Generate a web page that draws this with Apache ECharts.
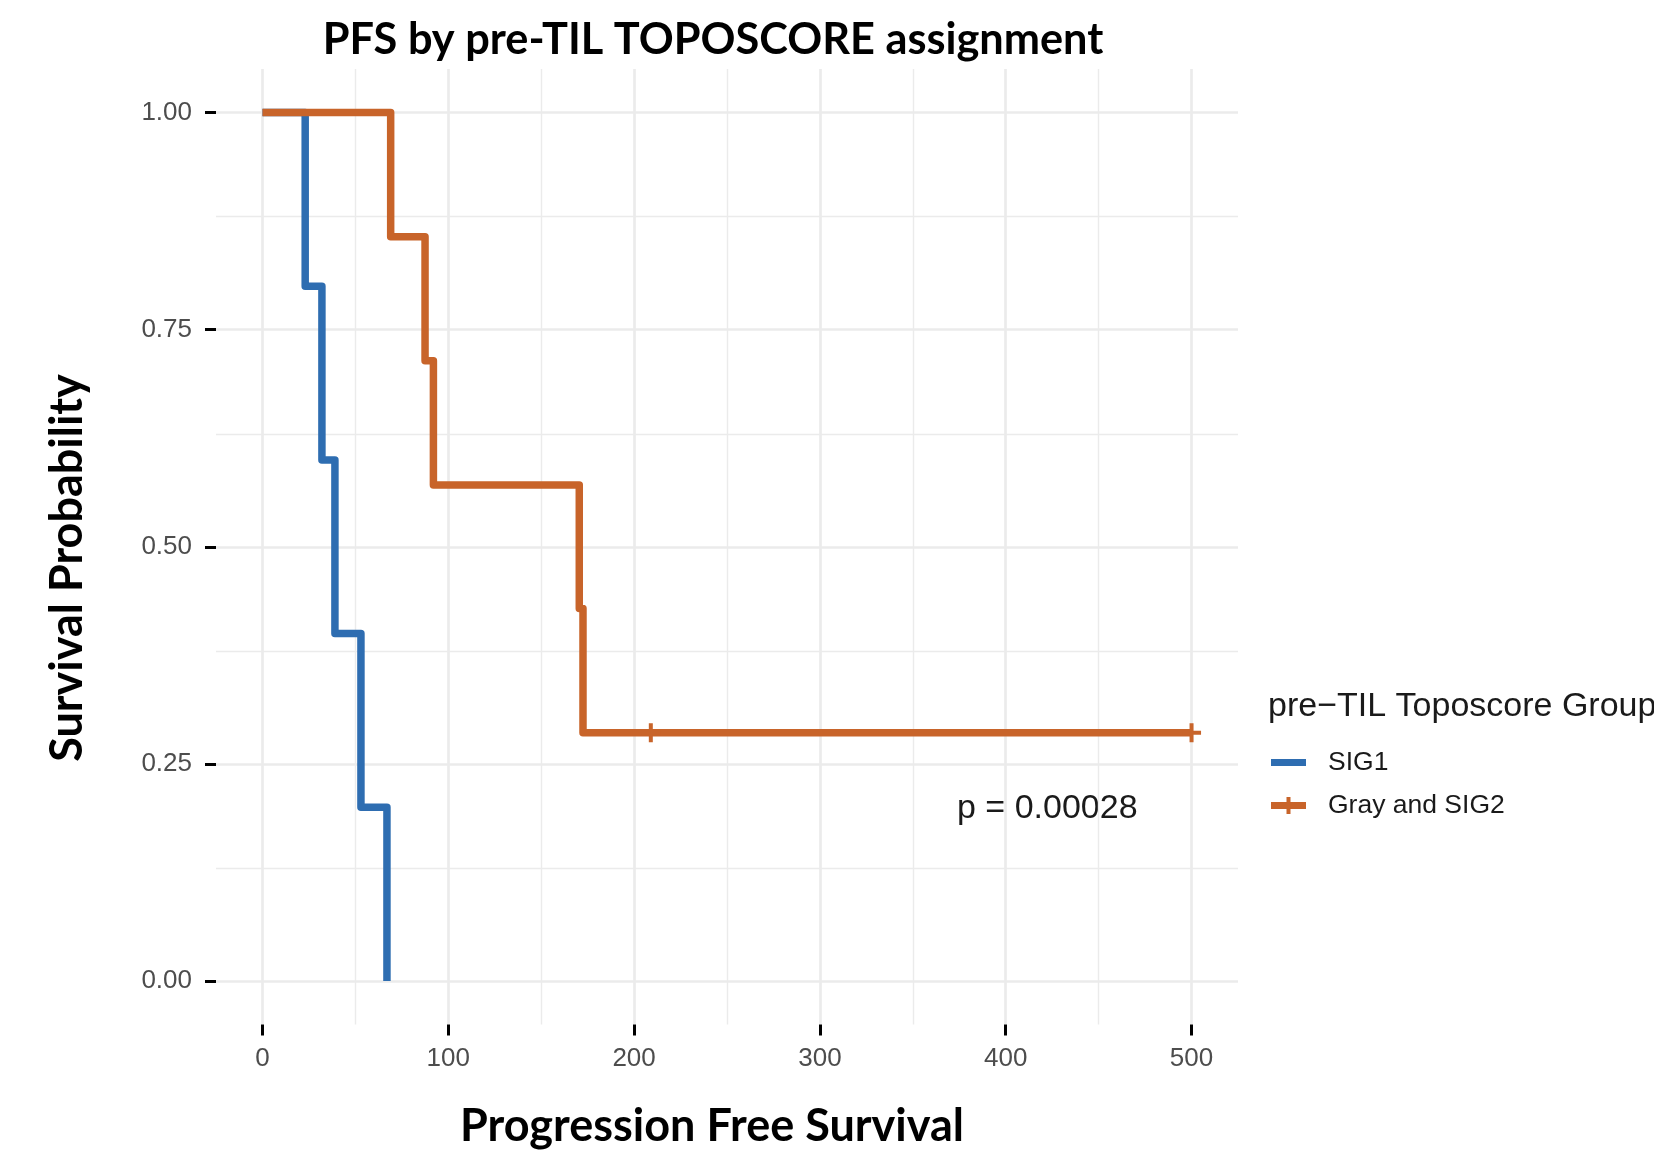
<!DOCTYPE html>
<html>
<head>
<meta charset="utf-8">
<script src="https://cdn.jsdelivr.net/npm/echarts@6/dist/echarts.min.js"></script>
<style>
html,body{margin:0;padding:0;background:#fff;}
#chart{width:1654px;height:1154px;}
</style>
</head>
<body>
<div id="chart"></div>
<script>
// ---- data ----
const sig1Time = [0, 23, 32, 39, 53, 67];
const sig1Surv = [1, 0.8, 0.6, 0.4, 0.2, 0];
const graySig2Time = [0, 69, 87.5, 92, 170.5, 172.5, 500];
const graySig2Surv = [1, 0.857, 0.714, 0.571, 0.429, 0.286, 0.286];
const censorTime = [209, 500];
const censorSurv = [0.286, 0.286];
const xTicks = [0, 100, 200, 300, 400, 500];
const xMinor = [50, 150, 250, 350, 450];
const yTicks = [0, 0.25, 0.5, 0.75, 1];
const yMinor = [0.125, 0.375, 0.625, 0.875];
const seriesNames = ['SIG1', 'Gray and SIG2'];
const titleText = 'PFS by pre-TIL TOPOSCORE assignment';
const xTitle = 'Progression Free Survival';
const yTitle = 'Survival Probability';
const legendTitle = 'pre\u2212TIL Toposcore Group';
const pText = 'p = 0.00028';

const BLUE = '#2E6DB1';
const ORANGE = '#C8642A';
const GRID = '#EBEBEB';
const LABEL_FONT = '"Liberation Sans", Arial, sans-serif';

const zip = (a, b) => a.map((v, i) => [v, b[i]]);

const chart = echarts.init(document.getElementById('chart'));
chart.setOption({
  animation: false,
  backgroundColor: '#fff',
  grid: { left: 216, top: 69, width: 1022, height: 955.5, containLabel: false },
  xAxis: {
    type: 'value', min: -25, max: 525,
    axisLine: { show: false, onZero: false },
    splitLine: { show: false },
    axisTick: { show: true, customValues: xTicks, length: 11, lineStyle: { color: '#000', width: 3 } },
    axisLabel: { customValues: xTicks, margin: 21, color: '#4D4D4D', fontSize: 26, fontFamily: LABEL_FONT }
  },
  yAxis: {
    type: 'value', min: -0.05, max: 1.05,
    axisLine: { show: false, onZero: false },
    splitLine: { show: false },
    axisTick: { show: true, customValues: yTicks, length: 11, lineStyle: { color: '#000', width: 3 } },
    axisLabel: { customValues: yTicks, margin: 24, color: '#4D4D4D', fontSize: 26, fontFamily: LABEL_FONT,
      formatter: v => Number(v).toFixed(2) }
  },
  legend: [
    { data: [seriesNames[0]], left: 1271, top: 749, padding: 0, icon: 'rect', itemWidth: 35, itemHeight: 7,
      selectedMode: false,
      textStyle: { fontSize: 26.5, fontFamily: LABEL_FONT, color: '#1A1A1A', padding: [0, 0, 0, 17] } },
    { data: [seriesNames[1]], left: 1271, top: 792, padding: 0,
      icon: 'path://M0,5H35V12H0Z M15.5,0H19.5V17H15.5Z', itemWidth: 35, itemHeight: 17,
      selectedMode: false,
      textStyle: { fontSize: 26.5, fontFamily: LABEL_FONT, color: '#1A1A1A', padding: [0, 0, 0, 17] } }
  ],
  graphic: [
    { type: 'text', x: 713, y: 40, silent: true,
      style: { text: titleText, align: 'center', verticalAlign: 'middle',
        font: 'bold 43.3px Lato', fill: '#000' } },
    { type: 'text', x: 712, y: 1104, silent: true,
      style: { text: xTitle, align: 'center', verticalAlign: 'top',
        font: 'bold 45px Lato', fill: '#000' } },
    { type: 'text', x: 90, y: 568, rotation: Math.PI / 2, silent: true,
      style: { text: yTitle, align: 'center', verticalAlign: 'bottom',
        font: 'bold 45px Lato', fill: '#000' } },
    { type: 'text', x: 1268, y: 707, silent: true,
      style: { text: legendTitle, align: 'left', verticalAlign: 'middle',
        font: '34px "Liberation Sans", Arial, sans-serif', fill: '#1A1A1A' } },
    { type: 'text', x: 957, y: 809, silent: true,
      style: { text: pText, align: 'left', verticalAlign: 'middle',
        font: '34px "Liberation Sans", Arial, sans-serif', fill: '#1A1A1A' } }
  ],
  series: [
    {
      name: 'gridlines', type: 'line', data: [], z: 0, silent: true,
      markLine: {
        z: 0, silent: true, symbol: ['none', 'none'], label: { show: false }, animation: false,
        emphasis: { disabled: true },
        lineStyle: { color: GRID, type: 'solid', width: 2.7 },
        data: [
          ...xTicks.map(v => ({ xAxis: v, lineStyle: { color: GRID, type: 'solid', width: 2.7 } })),
          ...xMinor.map(v => ({ xAxis: v, lineStyle: { color: GRID, type: 'solid', width: 1.4 } })),
          ...yTicks.map(v => ({ yAxis: v, lineStyle: { color: GRID, type: 'solid', width: 2.7 } })),
          ...yMinor.map(v => ({ yAxis: v, lineStyle: { color: GRID, type: 'solid', width: 1.4 } }))
        ]
      }
    },
    {
      name: seriesNames[0], type: 'line', step: 'end', z: 3,
      data: zip(sig1Time, sig1Surv),
      symbol: 'none', showSymbol: false, color: BLUE,
      itemStyle: { color: BLUE },
      lineStyle: { color: BLUE, width: 7.5, join: 'round', cap: 'butt' }
    },
    {
      name: seriesNames[1], type: 'line', step: 'end', z: 4,
      data: zip(graySig2Time, graySig2Surv),
      symbol: 'none', showSymbol: false, color: ORANGE,
      itemStyle: { color: ORANGE },
      lineStyle: { color: ORANGE, width: 7.5, join: 'round', cap: 'butt' }
    },
    {
      name: seriesNames[1], type: 'scatter', z: 5, silent: true,
      data: zip(censorTime, censorSurv),
      symbol: 'path://M0,7.5H19V11.5H0Z M7.5,0H11.5V19H7.5Z', symbolSize: 19,
      itemStyle: { color: ORANGE, opacity: 1 }
    }
  ]
});
</script>
</body>
</html>
